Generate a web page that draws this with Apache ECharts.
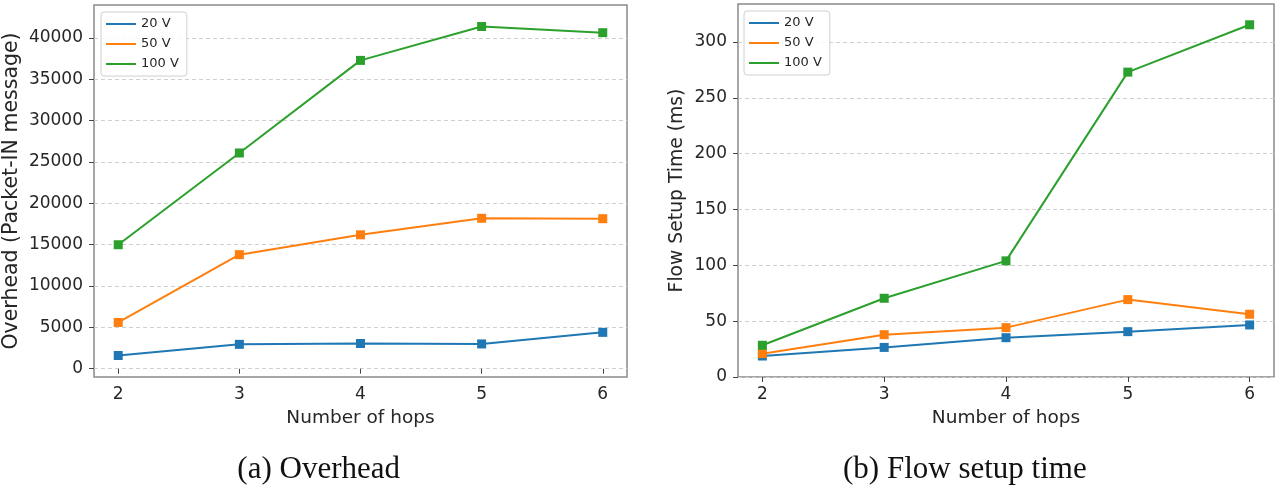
<!DOCTYPE html>
<html>
<head>
<meta charset="utf-8">
<script src="https://cdn.jsdelivr.net/npm/echarts@6/dist/echarts.min.js"></script>
<style>
  html, body { margin: 0; padding: 0; background: #fff; }
  #app { width: 1287px; height: 496px; }
</style>
</head>
<body>
<div id="app"></div>
<script>
// data
const hops = [2, 3, 4, 5, 6];
const seriesNames = ["20 V", "50 V", "100 V"];
const colors = ["#1f77b4", "#ff7f0e", "#2ca02c"];

const overhead20 = [1600, 2950, 3050, 3000, 4400];
const overhead50 = [5600, 13800, 16200, 18200, 18150];
const overhead100 = [15000, 26100, 37300, 41400, 40650];
const overheadTicks = [0, 5000, 10000, 15000, 20000, 25000, 30000, 35000, 40000];

const setup20 = [18.8, 26.5, 35.2, 40.6, 46.6];
const setup50 = [20.9, 37.9, 44.2, 69.3, 56.2];
const setup100 = [28.4, 70.5, 104, 273, 315.4];
const setupTicks = [0, 50, 100, 150, 200, 250, 300];

const app = document.getElementById("app");
const myChart = echarts.init(app);

const font = "DejaVu Sans";
const textColor = "#262626";

const pairs = (vals) => hops.map((h, i) => [h, vals[i]]);

const makeX = (gridIndex) => ({
  type: "value",
  gridIndex,
  min: 1.8,
  max: 6.2,
  name: "Number of hops",
  nameLocation: "middle",
  nameGap: 32,
  nameTextStyle: { fontFamily: font, fontSize: 18.5, color: textColor },
  axisLine: { show: false },
  axisTick: { show: true, length: 5, lineStyle: { color: "#444" }, customValues: hops },
  axisLabel: { fontFamily: font, fontSize: 17, color: textColor, margin: 9, customValues: hops },
  splitLine: { show: false },
});

const makeY = (gridIndex, name, min, max, ticks, gap, nameSize) => ({
  type: "value",
  gridIndex,
  min,
  max,
  name,
  nameLocation: "middle",
  nameRotate: 90,
  nameGap: gap,
  nameTextStyle: { fontFamily: font, fontSize: nameSize, color: textColor },
  axisLine: { show: false },
  axisTick: { show: true, length: 5, lineStyle: { color: "#444" }, customValues: ticks },
  axisLabel: {
    fontFamily: font,
    fontSize: 17,
    color: textColor,
    margin: 11,
    customValues: ticks,
    formatter: (v) => String(v),
  },
  splitLine: { show: true, lineStyle: { color: "#cfcfcf", type: [4, 3], width: 1 } },
});

const makeSeries = (gridIndex, lists) =>
  lists.map((vals, i) => ({
    name: seriesNames[i],
    type: "line",
    xAxisIndex: gridIndex,
    yAxisIndex: gridIndex,
    data: pairs(vals),
    symbol: "rect",
    symbolSize: 9,
    showSymbol: true,
    color: colors[i],
    lineStyle: { width: 2, color: colors[i] },
    itemStyle: { color: colors[i] },
    animation: false,
  }));

const makeLegend = (left, top) => ({
  left,
  top,
  orient: "vertical",
  data: seriesNames,
  icon: "rect",
  itemWidth: 30,
  itemHeight: 2,
  itemGap: 6,
  padding: [5, 8, 5, 5],
  borderColor: "#d0d0d0",
  borderWidth: 1,
  borderRadius: 3,
  backgroundColor: "rgba(255,255,255,0.85)",
  selectedMode: false,
  textStyle: { fontFamily: font, fontSize: 13, color: textColor, lineHeight: 14 },
});

const caption = (text, x, align) => ({
  type: "text",
  x,
  y: 470,
  style: {
    text,
    font: "31px 'Liberation Serif'",
    fill: "#111",
    align,
    verticalAlign: "middle",
  },
});

myChart.setOption({
  animation: false,
  grid: [
    { left: 93, top: 5, width: 534, height: 372, show: true, borderColor: "#8a8a8a", borderWidth: 1.5 },
    { left: 738, top: 4, width: 536, height: 373, show: true, borderColor: "#8a8a8a", borderWidth: 1.5 },
  ],
  xAxis: [makeX(0), makeX(1)],
  yAxis: [
    makeY(0, "Overhead (Packet-IN message)", -1000, 44000, overheadTicks, 72, 20.5),
    makeY(1, "Flow Setup Time (ms)", 0, 334, setupTicks, 51, 18.75),
  ],
  legend: [makeLegend(101, 12), makeLegend(744, 11)],
  series: [
    ...makeSeries(0, [overhead20, overhead50, overhead100]),
    ...makeSeries(1, [setup20, setup50, setup100]),
  ],
  graphic: [caption("(a) Overhead", 400, "right"), caption("(b) Flow setup time", 843, "left")],
});
</script>
</body>
</html>
